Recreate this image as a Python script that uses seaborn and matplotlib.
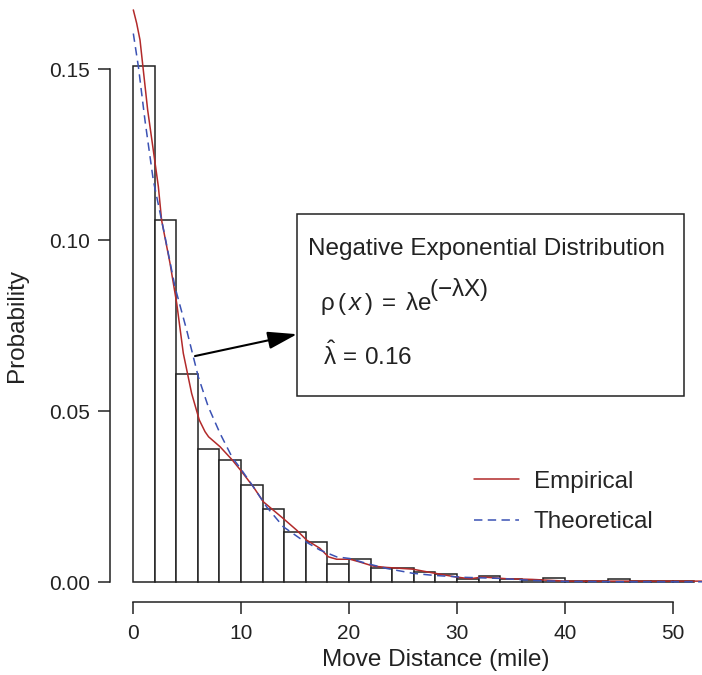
import seaborn as sns
import numpy as np
import matplotlib.pyplot as plt
from matplotlib.patches import Rectangle
from matplotlib.lines import Line2D

### data

bin_left = [0, 2, 4, 6, 8, 10, 12, 14, 16, 18, 20, 22, 24,
            26, 28, 30, 32, 34, 36, 38, 40, 42, 44, 46, 48, 50]
bin_height = [0.151, 0.106, 0.061, 0.039, 0.0357, 0.0283, 0.0215, 0.0147, 0.0117, 0.0054,
              0.0068, 0.0042, 0.0042, 0.0029, 0.0023, 0.0008, 0.0018, 0.0008, 0.0006, 0.0012,
              0.0003, 0.0002, 0.0008, 0.0002, 0.0002, 0.0002]
bin_width = 2

emp_x = [0.03, 0.34, 0.65, 1.36, 1.88, 2.35, 2.65, 3.43, 4.05, 4.66, 5.43, 6.14, 6.67, 7.0,
         8.06, 9.2, 9.97, 11.14, 12.07, 13.92, 15.16, 16.08, 17.31, 18.1, 18.86, 20.1, 21.0,
         22.25, 23.5, 25.9, 27.78, 29.94, 31.2, 32.4, 34.6, 37.0, 40.1, 46.3, 52.7]
emp_y = [0.1673, 0.1634, 0.1585, 0.138, 0.1263, 0.1156, 0.1058, 0.0932, 0.0815, 0.0669,
         0.0552, 0.0474, 0.044, 0.0425, 0.0396, 0.0357, 0.0327, 0.0279, 0.0235, 0.0186,
         0.0152, 0.0123, 0.0099, 0.0074, 0.0067, 0.0067, 0.0059, 0.0047, 0.0043, 0.0038,
         0.0027, 0.0015, 0.001, 0.0015, 0.001, 0.0008, 0.0003, 0.0003, 0.0003]

theo_x = [0.03, 0.5, 1.11, 1.88, 2.9, 3.89, 4.97, 6.05, 6.97, 8.06, 9.2, 9.97, 11.14, 12.38,
          13.92, 15.46, 17.31, 18.86, 20.1, 21.6, 23.5, 25.9, 27.78, 30.8, 33.95, 37.0,
          40.1, 46.0, 52.7]
theo_y = [0.1604, 0.1507, 0.135, 0.1175, 0.102, 0.0863, 0.0737, 0.06, 0.0513, 0.0435, 0.0364,
          0.0332, 0.0279, 0.022, 0.0162, 0.0128, 0.0094, 0.0074, 0.0069, 0.0055, 0.004,
          0.0026, 0.002, 0.0014, 0.0011, 0.0005, 0.0002, 0.0001, 0.0001]

lambda_hat = 0.16

sns.set_style("ticks")
plt.rcParams['font.family'] = ['Liberation Sans', 'DejaVu Sans']
plt.rcParams['mathtext.fontset'] = 'custom'
plt.rcParams['mathtext.rm'] = 'Liberation Sans'
plt.rcParams['mathtext.it'] = 'Liberation Sans:italic'
plt.rcParams['mathtext.default'] = 'regular'

ink = "#222222"
red = "#B22A2A"
blue = "#3B52B4"

fig = plt.figure(figsize=(7.02, 6.75), dpi=100)
ax = fig.add_axes([110 / 702, 73 / 675, 592 / 702, 602 / 675])

edges = bin_left + [bin_left[-1] + bin_width]
centers = [b + bin_width / 2 for b in bin_left]
sns.histplot(x=centers, weights=bin_height, bins=edges, stat="count", ax=ax,
             color="white", edgecolor=ink, linewidth=1.1, alpha=1)

sns.lineplot(x=emp_x, y=emp_y, ax=ax, color=red, lw=1.1, sort=False, estimator=None)
sns.lineplot(x=theo_x, y=theo_y, ax=ax, color=blue, lw=1.1, sort=False, estimator=None,
             linestyle=(0, (5.5, 3.5)))

ax.set_xlim(-2.13, 52.7)
ax.set_ylim(-0.0058, 0.1702)
ax.set_xticks([0, 10, 20, 30, 40, 50])
ax.set_yticks([0, 0.05, 0.10, 0.15])
ax.set_yticklabels(["0.00", "0.05", "0.10", "0.15"])
sns.despine(ax=ax)
ax.spines['left'].set_bounds(0, 0.15)
ax.spines['bottom'].set_bounds(0, 50)
for s in ("left", "bottom"):
    ax.spines[s].set_color(ink)
    ax.spines[s].set_linewidth(1.1)
ax.tick_params(axis="both", length=8.5, width=1.1, color=ink, labelsize=15, labelcolor=ink)
ax.tick_params(axis="y", pad=6)
ax.tick_params(axis="x", pad=7)

ax.set_xlabel("Move Distance (mile)", fontsize=17.5, color=ink)
ax.set_ylabel("Probability", fontsize=17.5, color=ink)
ax.xaxis.set_label_coords(0.551, -0.078)
ax.yaxis.set_label_coords(-0.138, 0.46)

# annotation box
ax.add_patch(Rectangle((15.19, 0.0544), 35.8, 0.0532, fill=False, edgecolor=ink, lw=1.1,
                       clip_on=False))
ax.text(16.2, 0.0956, "Negative Exponential Distribution", fontsize=17.5, color=ink,
        va="baseline", ha="left")
ax.text(17.31, 0.0795, r"$\rho\,(\,\mathit{x}\,)\;=\;\lambda e$", fontsize=17.5,
        color=ink, va="baseline", ha="left")
ax.text(27.4, 0.0836, r"$(-\lambda X)$", fontsize=17.5, color=ink, va="baseline", ha="left")
ax.text(17.6, 0.0634, r"$\hat{\lambda}\,=\,%.2f$" % lambda_hat, fontsize=17.5, color=ink,
        va="baseline", ha="left")
ax.annotate("", xy=(15.19, 0.0725), xytext=(5.74, 0.0661),
            arrowprops=dict(arrowstyle="-|>,head_length=0.9,head_width=0.27",
                            mutation_scale=20, color="black", lw=1.5,
                            shrinkA=0, shrinkB=0))

handles = [Line2D([], [], color=red, lw=1.1),
           Line2D([], [], color=blue, lw=1.1, linestyle=(0, (5.5, 3.5)))]
ax.legend(handles, ["Empirical", "Theoretical"], loc="center left",
          bbox_to_anchor=(0.615, 0.166), frameon=False, fontsize=17.5,
          handlelength=1.85, handletextpad=0.6, labelspacing=0.75,
          borderpad=0, borderaxespad=0)

fig.savefig("out.png", dpi=100)
